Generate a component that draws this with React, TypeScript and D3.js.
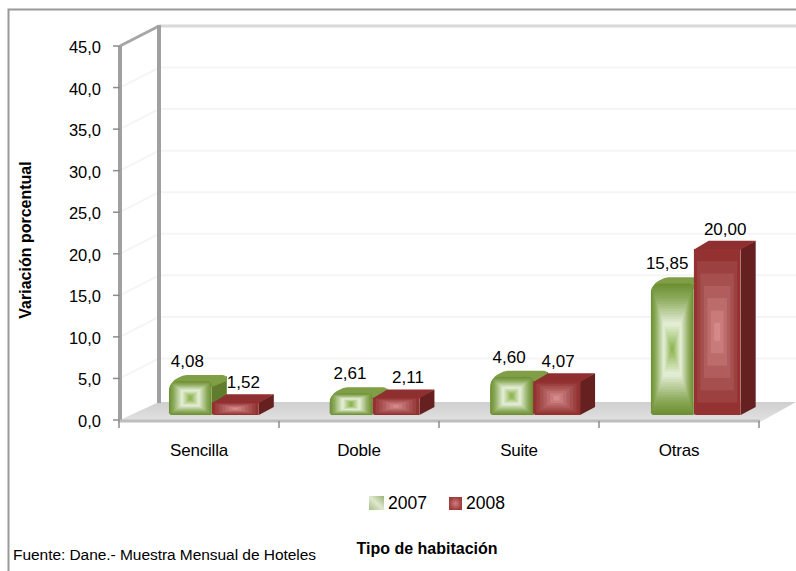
import React from "react";
import * as d3 from "d3";

const categories = ["Sencilla", "Doble", "Suite", "Otras"];
const series2007 = [4.08, 2.61, 4.6, 15.85];
const series2008 = [1.52, 2.11, 4.07, 20.0];
const yTicks = [0, 5, 10, 15, 20, 25, 30, 35, 40, 45];
const years = ["2007", "2008"];
const label2007Dx = [-3, -1, -2.5, -5];
const label2008Dx = [8, 12, 1.5, 8];

const W = 796, H = 571;
const font = "'Liberation Sans', Arial, sans-serif";
const fmt1 = (v: number) => d3.format(".1f")(v).replace(".", ",");
const fmt2 = (v: number) => d3.format(".2f")(v).replace(".", ",");

const x = d3.scaleBand<string>().domain(categories).range([120, 760]);
const xBars = d3.scaleBand<string>().domain(categories).range([120.5, 763]);
const yFront = d3.scaleLinear().domain([0, 45]).range([420, 46]);
const yBar = d3.scaleLinear().domain([0, 45]).range([415, 41]);
const wallDx = 39, wallDy = 20;
const depthX = 15, depthY = 8;
const greenW = 43, redW = 47;

const greenRamp = d3.scaleLinear<string>().domain([0, 0.22, 0.62, 1]).range(["#6e8f33", "#8dab5c", "#e6efd9", "#8fb552"]);
const redRamp = d3.scaleLinear<string>().domain([0, 0.35, 1]).range(["#943232", "#a65050", "#d58a8a"]);

function Bands({ x0, y0, w, h, ramp, endW, endH, steps, clip }: any) {
  return (
    <g clipPath={clip}>
      {d3.range(steps).map((i) => {
        const t = i / (steps - 1);
        const ix = t * (w - endW) / 2, iy = t * (h - endH) / 2;
        return <rect key={i} x={x0 + ix} y={y0 + iy} width={w - 2 * ix} height={h - 2 * iy} fill={ramp(t)} />;
      })}
    </g>
  );
}

function Bar3D({ x0, v, w, kind, id }: any) {
  const top = yBar(v), bot = yBar(0);
  const h = bot - top;
  const green = kind === "g";
  const topC = green ? "#7f9e45" : "#8f2f2f";
  const sideC = green ? "#5f7d2c" : "#662020";
  const r = green ? Math.min(11, h / 2) : 0;
  const front = d3.path();
  front.moveTo(x0, bot - 2);
  front.lineTo(x0, top + r);
  front.quadraticCurveTo(x0, top, x0 + r, top);
  front.lineTo(x0 + w - r / 2, top);
  front.quadraticCurveTo(x0 + w, top, x0 + w, top + r / 2);
  front.lineTo(x0 + w, bot);
  front.lineTo(x0 + 2, bot);
  front.closePath();
  const bump = green ? 3 : 0;
  const topFace = green
    ? `M${x0 + 2},${top + 4}Q${x0 + 4},${top - 1} ${x0 + 9},${top - 3}Q${x0 + 14},${top - depthY + 2} ${x0 + 18},${top - depthY + 2}L${x0 + w + depthX - 4},${top - depthY + 2}Q${x0 + w + depthX},${top - depthY + 2} ${x0 + w + depthX},${top}L${x0 + w},${top + 6}Z`
    : d3.line()([[x0, top + 1], [x0 + depthX, top - depthY], [x0 + w + depthX, top - depthY], [x0 + w, top + 1]] as any) + "Z";
  const side = d3.line()([[x0 + w, top + bump], [x0 + w + depthX, top - depthY + bump], [x0 + w + depthX, bot - depthY], [x0 + w, bot]] as any) + "Z";
  return (
    <g>
      <path d={side} fill={sideC} />
      <path d={topFace} fill={topC} />
      <clipPath id={id}><path d={front.toString()} /></clipPath>
      <Bands x0={x0} y0={top} w={w} h={h} ramp={green ? greenRamp : redRamp} endW={green ? 2 : 6} endH={green ? 4 : Math.min(18, h * 0.15)} steps={green ? 26 : 7} clip={`url(#${id})`} />
    </g>
  );
}

export default function App() {
  const floor = [[120, 420], [159, 402], [796, 402], [760, 422]];
  const line = d3.line();
  const catTicks = [...categories.map((c) => x(c) as number), 760];
  return (
    <svg width={W} height={H} style={{ position: "absolute", left: 0, top: 0, background: "#fff" }} fontFamily={font} fill="#000">
      <defs>
        <linearGradient id="floorG" x1="0" x2="0" y1="0" y2="1">
          <stop offset="0" stopColor="#cfcfcf" />
          <stop offset="1" stopColor="#e2e2e2" />
        </linearGradient>
        <linearGradient id="leg07" x1="0" y1="1" x2="1" y2="0">
          <stop offset="0" stopColor="#a9bd85" />
          <stop offset="0.5" stopColor="#dfe8cf" />
          <stop offset="1" stopColor="#9cb274" />
        </linearGradient>
        <radialGradient id="leg08">
          <stop offset="0" stopColor="#cc8080" />
          <stop offset="1" stopColor="#a03c3c" />
        </radialGradient>
      </defs>
      <path d={`M8.5 572V9.5H797`} fill="none" stroke="#999" strokeWidth={2} />

      {yTicks.slice(1).map((t) => (
        <g key={t} stroke="#f5f5f5" strokeWidth={2} fill="none">
          {t < 45 && <line x1={120} y1={yFront(t)} x2={120 + wallDx} y2={yFront(t) - wallDy} />}
          {t < 45 && <line x1={120 + wallDx} y1={yFront(t) - wallDy} x2={796} y2={yFront(t) - wallDy} />}
        </g>
      ))}
      <line x1={159} y1={26} x2={796} y2={26} stroke="#d9d9d9" strokeWidth={3} />
      <line x1={120} y1={46} x2={159} y2={26} stroke="#a6a6a6" strokeWidth={3} />
      <path d={line(floor as any) + "Z"} fill="url(#floorG)" />
      <line x1={159} y1={25} x2={159} y2={403} stroke="#a0a0a0" strokeWidth={4} />
      <line x1={120} y1={46} x2={120} y2={421} stroke="#a0a0a0" strokeWidth={4} />
      <line x1={118} y1={421} x2={760} y2={421} stroke="#bdbdbd" strokeWidth={3} />

      {yTicks.map((t) => (
        <g key={t}>
          <line x1={113} y1={yFront(t)} x2={120} y2={yFront(t)} stroke="#8c8c8c" strokeWidth={1.5} />
          <text x={101} y={yFront(t) + 7} textAnchor="end" fontSize={16.5}>{fmt1(t)}</text>
        </g>
      ))}
      {catTicks.map((t, i) => (
        <line key={i} x1={t - 1} y1={421} x2={t - 1} y2={428} stroke="#8c8c8c" strokeWidth={1.5} />
      ))}

      {categories.map((c, i) => {
        const cx = (xBars(c) as number) + xBars.bandwidth() / 2;
        const lx = (x(c) as number) + x.bandwidth() / 2;
        const g0 = cx - 32;
        const r0 = g0 + greenW;
        return (
          <g key={c}>
            <Bar3D x0={g0} v={series2007[i]} w={greenW} kind="g" id={`g${i}`} />
            <Bar3D x0={r0} v={series2008[i]} w={redW} kind="r" id={`r${i}`} />
            <text x={g0 + greenW / 2 + label2007Dx[i]} y={yBar(series2007[i]) - 14} textAnchor="middle" fontSize={17}>{fmt2(series2007[i])}</text>
            <text x={r0 + redW / 2 + label2008Dx[i]} y={yBar(series2008[i]) - 14} textAnchor="middle" fontSize={17}>{fmt2(series2008[i])}</text>
            <text x={lx - 1} y={456} textAnchor="middle" fontSize={17} letterSpacing={-0.2}>{c}</text>
          </g>
        );
      })}

      <rect x={369} y={496} width={15} height={14} fill="url(#leg07)" />
      <text x={388} y={509} fontSize={17.5}>{years[0]}</text>
      <rect x={449} y={497} width={13} height={13} fill="url(#leg08)" />
      <text x={466} y={509} fontSize={17.5}>{years[1]}</text>

      <text transform="translate(31,240) rotate(-90)" textAnchor="middle" fontSize={16} fontWeight="bold">Variación porcentual</text>
      <text x={427} y={554} textAnchor="middle" fontSize={16} fontWeight="bold">Tipo de habitación</text>
      <text x={13} y={560} fontSize={15.5} letterSpacing={-0.05}>Fuente: Dane.- Muestra Mensual de Hoteles</text>
    </svg>
  );
}
